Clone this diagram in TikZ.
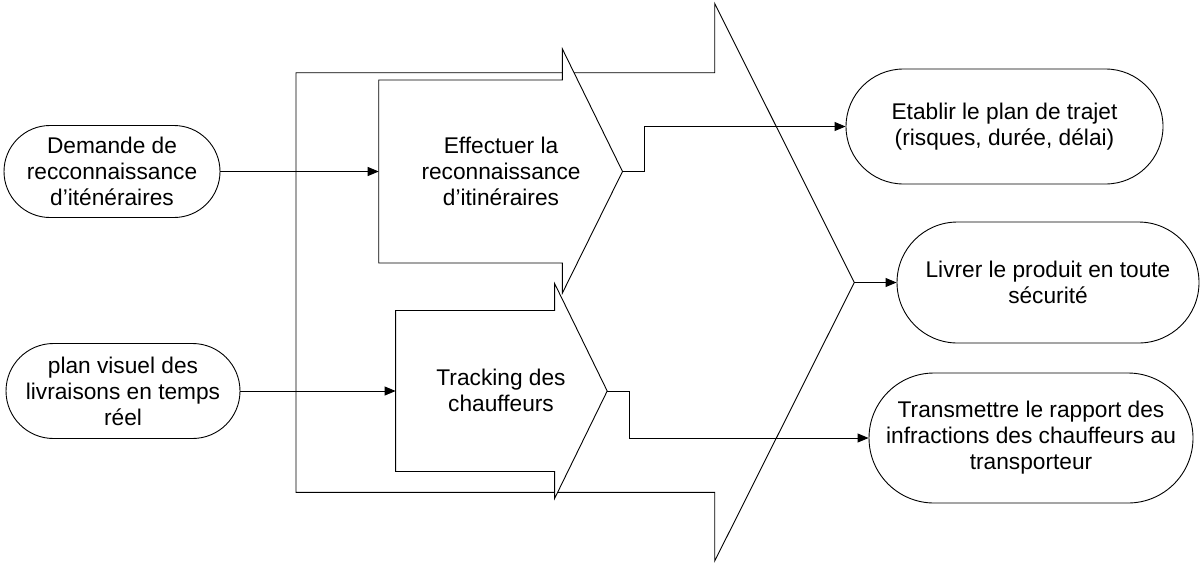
\documentclass[tikz,border=0pt]{standalone}
\usepackage{fontspec}
\setmainfont{Liberation Sans}
\usetikzlibrary{arrows.meta,shapes.misc}
\begin{document}
\begin{tikzpicture}[x=1pt,y=-1pt,
  every node/.style={font=\fontsize{22.7}{26}\selectfont},
  term/.style={draw,line width=0.9pt,rounded rectangle,align=center,inner sep=0pt},
  blockarrow/.style={draw,line width=0.9pt,fill=white,line join=miter},
  conn/.style={line width=0.9pt,-{Triangle[length=11pt,width=9pt]}},
  lbl/.style={align=center,inner sep=0pt}]
\useasboundingbox (0,0) rectangle (1201,563);
% big arrow
\coordinate (btip) at (854.3,282.5);
\draw[blockarrow] (296,72.7) -- (714.7,72.7) -- (714.7,3.5) -- (btip) -- (714.7,561) -- (714.7,492.3) -- (296,492.3) -- cycle;
% arrow 1
\coordinate (a1in) at (378.7,171.5);
\coordinate (a1tip) at (622.5,171.5);
\draw[blockarrow] (378.7,80) -- (562.4,80) -- (562.4,49) -- (a1tip) -- (562.4,293) -- (562.4,263) -- (378.7,263) -- cycle;
\node[lbl] (a1txt) at (501,171.5) {Effectuer la\\reconnaissance\\d’itinéraires};
% arrow 2
\coordinate (a2in) at (395.6,391);
\coordinate (a2tip) at (607.2,391);
\draw[blockarrow] (395.6,310.5) -- (554.6,310.5) -- (554.6,283.5) -- (a2tip) -- (554.6,498.5) -- (554.6,471.5) -- (395.6,471.5) -- cycle;
\node[lbl] (a2txt) at (501,390) {Tracking des\\chauffeurs};
% terminators
\node[term,minimum width=216pt,minimum height=92pt] (dem) at (112,171.5) {Demande de\\recconnaissance\\d’iténéraires};
\node[term,minimum width=234pt,minimum height=95pt] (plan) at (123,391) {plan visuel des\\livraisons en temps\\réel};
\node[term,minimum width=317pt,minimum height=115pt] (etab) at (1004.5,126.5) {Etablir le plan de trajet\\(risques, durée, délai)};
\node[term,minimum width=302pt,minimum height=121pt] (livr) at (1048,282.5) {Livrer le produit en toute\\sécurité};
\node[term,minimum width=324pt,minimum height=130pt] (trans) at (1031,438) {Transmettre le rapport des\\infractions des chauffeurs au\\transporteur};
% connectors
\draw[conn] (dem.east) -- (a1in);
\draw[conn] (plan.east) -- (a2in);
\draw[conn] (a1tip) -- ++(22,0) |- (etab.west);
\draw[conn] (a2tip) -- ++(22,0) |- (trans.west);
\draw[conn] (btip) -- (livr.west);
\end{tikzpicture}
\end{document}
